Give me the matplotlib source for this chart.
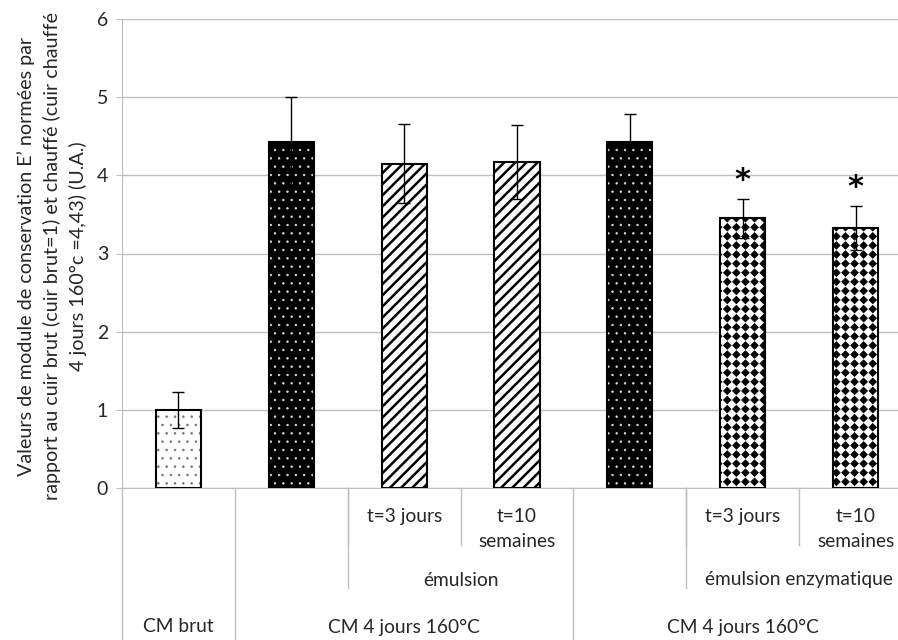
import matplotlib
matplotlib.use("Agg")
import matplotlib.pyplot as plt
import matplotlib.transforms as mtransforms
import matplotlib.hatch as mhatch
from matplotlib.path import Path
import numpy as np

# values
values = [1.00, 4.43, 4.15, 4.17, 4.43, 3.45, 3.33]
errors = [0.23, 0.57, 0.51, 0.47, 0.36, 0.25, 0.28]
significant = [False, False, False, False, False, True, True]
level1 = ["", "", "t=3 jours", "t=10\nsemaines", "", "t=3 jours", "t=10\nsemaines"]
level2 = [("émulsion", 2, 3), ("émulsion enzymatique", 5, 6)]
level3 = [("CM brut", 0, 0), ("CM 4 jours 160°C", 1, 3), ("CM 4 jours 160°C", 4, 6)]
ylabel = ("Valeurs de module de conservation E’ normées par\n"
          "rapport au cuir brut (cuir brut=1) et chauffé (cuir chauffé\n"
          "4 jours 160°c =4,43) (U.A.)")

# bar styles: (facecolor, hatch colour, hatch, hatch linewidth)
styles = [("white", "#777777", "..", 0.6),
          ("black", "#DDDDDD", "..", 0.5),
          ("white", "black", "///", 1.8),
          ("white", "black", "///", 1.8),
          ("black", "#DDDDDD", "..", 0.5),
          ("white", "black", "*", 0.5),
          ("white", "black", "*", 0.5)]


class Diamonds(mhatch.HatchPatternBase):
    """Square lattice of filled diamonds (Excel-like pattern), used for '*'."""

    def __init__(self, hatch, density):
        self.num_rows = hatch.count('*') * 11
        self.num_vertices = (self.num_rows + 1) ** 2 * 5 if self.num_rows else 0

    def set_vertices_and_codes(self, vertices, codes):
        step = 1.0 / self.num_rows
        r = step * 0.42
        shape = np.array([[0, -r], [r, 0], [0, r], [-r, 0], [0, -r]])
        shape_codes = [Path.MOVETO, Path.LINETO, Path.LINETO, Path.LINETO, Path.CLOSEPOLY]
        verts, cods = [], []
        for row in range(self.num_rows + 1):
            for col in range(self.num_rows + 1):
                verts.append(shape + [col * step, row * step])
                cods.extend(shape_codes)
        vertices[:] = np.concatenate(verts)
        codes[:] = cods


mhatch._hatch_types = [Diamonds if t is mhatch.Stars else t for t in mhatch._hatch_types]

plt.rcParams['font.family'] = ['Lato', 'DejaVu Sans']
text_color = "#262626"
grid_color = "#BFBFBF"

W, H = 898, 640
fig = plt.figure(figsize=(W / 100, H / 100), dpi=100)
ax = fig.add_axes([122 / W, (H - 488) / H, 790 / W, (488 - 19) / H])

x = list(range(len(values)))
for i, (face, hcol, hatch, hlw) in enumerate(styles):
    plt.rcParams['hatch.linewidth'] = hlw
    ax.bar(x[i], values[i], width=0.4, color=face, edgecolor=hcol, hatch=hatch,
           linewidth=0, zorder=2)
    ax.bar(x[i], values[i], width=0.4, fill=False, edgecolor="black",
           linewidth=1.5, zorder=3)

ax.errorbar(x, values, yerr=errors, fmt="none", ecolor="black", elinewidth=1,
            capsize=4, capthick=1, zorder=4)

for i in x:
    if significant[i]:
        ax.text(x[i], values[i] + errors[i] + 0.05, "*", ha="center", va="bottom",
                fontsize=22, fontweight="bold", color="black", family="DejaVu Sans")

ax.set_ylim(0, 6)
ax.set_xlim(-0.5, len(values) - 0.5)
ax.set_yticks(range(0, 7))
ax.set_xticks([])
ax.yaxis.grid(True, color=grid_color, linewidth=1)
ax.set_axisbelow(True)
for side in ("top", "right"):
    ax.spines[side].set_visible(False)
ax.spines["left"].set_color(grid_color)
ax.spines["bottom"].set_color(grid_color)
ax.tick_params(axis="y", length=4, color=grid_color, labelsize=14,
               labelcolor=text_color, pad=6)

# multi-level category axis
trans = mtransforms.blended_transform_factory(ax.transData, fig.transFigure)


def fy(px):
    return 1 - px / H


def vline(xpos, y_end):
    ax.plot([xpos, xpos], [fy(488), fy(y_end)], transform=trans, color=grid_color,
            linewidth=1, clip_on=False)


vline(-0.5, 640)
for i, lab in enumerate(level1):
    if lab:
        ax.text(x[i], fy(508), lab, transform=trans, ha="center", va="top",
                fontsize=13.8, color=text_color, linespacing=1.55)
        vline(x[i] - 0.5, 545)
for lab, a, b in level2:
    ax.text((a + b) / 2, fy(580), lab, transform=trans, ha="center", va="center",
            fontsize=13.8, color=text_color)
    vline(a - 0.5, 588)
for lab, a, b in level3:
    ax.text((x[a] + x[b]) / 2, fy(627), lab, transform=trans, ha="center",
            va="center", fontsize=13.8, color=text_color)
    vline(b + 0.5, 640)

fig.text(52 / W, fy(256), ylabel, rotation=90, ha="center", va="center",
         multialignment="center", fontsize=14.2, color=text_color, linespacing=1.5)

fig.savefig("out.png", dpi=100)
